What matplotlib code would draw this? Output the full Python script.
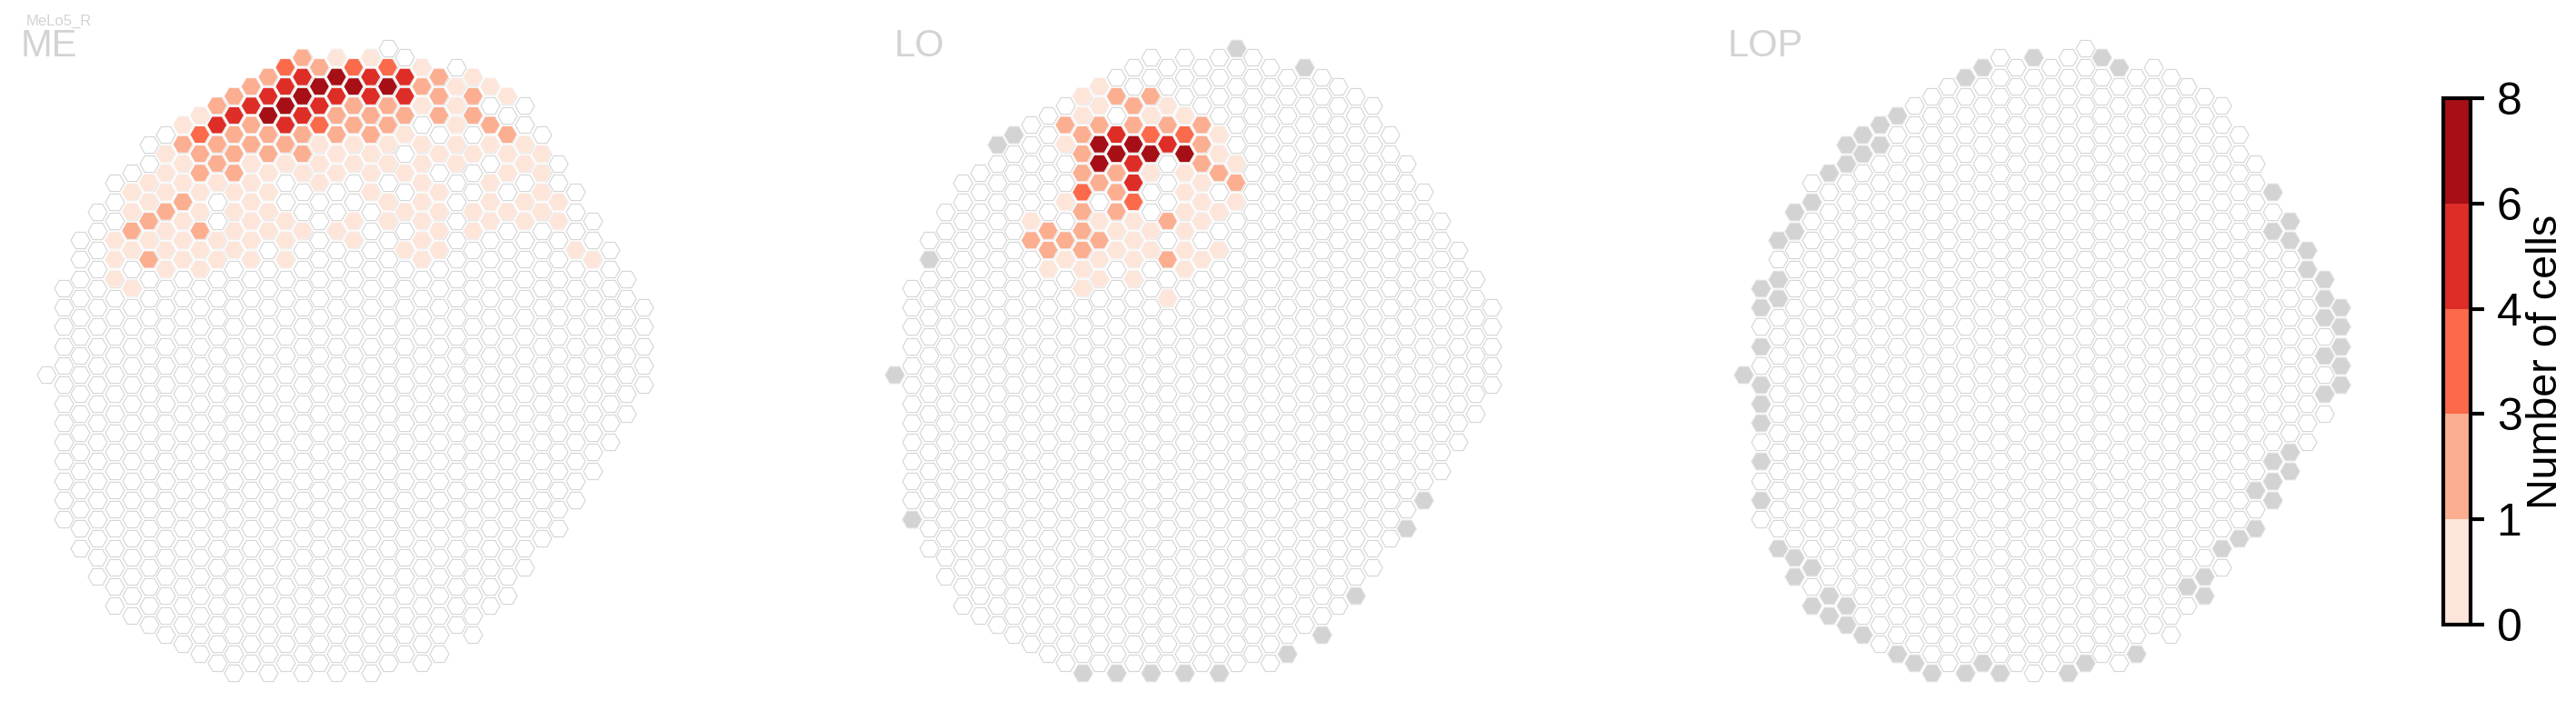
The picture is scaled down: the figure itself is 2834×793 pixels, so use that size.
import numpy as np
import matplotlib
matplotlib.use("Agg")
import matplotlib.pyplot as plt
from matplotlib.colors import ListedColormap, BoundaryNorm
from matplotlib.cm import ScalarMappable

plt.rcParams['font.family'] = ['Liberation Sans', 'DejaVu Sans']

N = None  # column with no count (white hexagon)

# hexagon lattice: first and last half-row of every lattice column
COLUMN_TOP = [0, -9, -14, -17, -20, -21, -24, -25, -26, -27, -28, -29, -30, -31, -32, -33, -32, -33,
              -32, -33, -34, -33, -32, -31, -32, -31, -30, -29, -28, -25, -22, -19, -16, -13, -10, -7]
COLUMN_BOTTOM = [0, 15, 18, 21, 24, 25, 26, 27, 28, 29, 30, 31, 30, 31, 30, 31, 30, 31,
                 30, 31, 30, 29, 30, 29, 26, 27, 24, 23, 20, 17, 16, 13, 10, 7, 4, 1]

# counts: lattice column -> (first half-row, counts going down every second half-row)
ME_COUNTS = {
    4: (-14, [0, 0, 0]),
    5: (-19, [0, 0, 2, 0, N, 0]),
    6: (-20, [0, 0, 2, 0, 2]),
    7: (-23, [0, 0, 0, 2, 0, 0, 0]),
    8: (-26, [0, 2, 0, 0, 2, 0, 0, 0]),
    9: (-27, [0, 3, 2, 2, 0, 0, 2, 0, 0]),
    10: (-28, [2, 5, 2, 2, 0, N, N, 0, 0]),
    11: (-29, [2, 5, 2, 2, 2, 0, 0, 0, 0]),
    12: (-30, [2, 5, 2, 2, 0, 0, 0, 0, 0, 0]),
    13: (-31, [2, 5, 7, 2, 2, 0, 0, 0, 0]),
    14: (-32, [3, 5, 7, 5, 2, 0, N, N, 0, 0, 0]),
    15: (-33, [2, 5, 7, 5, 2, 2, 0, N, N, 0]),
    16: (-32, [2, 7, 5, 3, 0, 0, 0]),
    17: (-33, [0, 7, 5, 2, 2, 0, 0, N, N, 0]),
    18: (-32, [3, 7, 2, 2, 0, 0, N, N, 0, 0]),
    19: (-33, [0, 5, 5, 2, 2, 0, 0, 0]),
    20: (-32, [3, 7, 2, 2, 0, 0, N, 0, 0]),
    21: (-31, [5, 5, 2, 0, N, 0, N, 0, N, 0]),
    22: (-32, [0, 2, 0, N, 0, 0, 0, 0, 0, 0, 0]),
    23: (-31, [2, 2, 2, N, 0, N, 0, 0, 0, 0]),
    24: (-30, [0, 0, 0, 0, 0]),
    25: (-31, [0, 2, 2, N, 0, N, N, 0, 0]),
    26: (-30, [0, N, 2, 0, N, 0, 0, 0]),
    27: (-29, [0, N, 2, 0, 0, N, 0]),
    28: (-24, [0, 0, N, 0, 0]),
    29: (-23, [0, 0, 0, 0]),
    30: (-18, [0, 0]),
    31: (-13, [0]),
    32: (-12, [0]),
}
LO_COUNTS = {
    8: (-16, [0, 2]),
    9: (-15, [2, 2, 0]),
    10: (-26, [2, 0, N, N, 0, N, 2, 0]),
    11: (-29, [0, 0, 2, 2, 2, 3, 2, 2, 2, 0, 0]),
    12: (-30, [0, 0, 2, 7, 7, 2, N, 0, 2, 0, 0]),
    13: (-29, [2, N, 5, 7, 2, 2, 2, 0, 0]),
    14: (-28, [2, 2, 7, 5, 5, 3, 0, 0, 0, 0]),
    15: (-29, [2, 0, 3, 7, 0, N, N, 0, 0]),
    16: (-28, [0, 2, 5, N, N, N, 2, N, 2, N, 0]),
    17: (-27, [0, 3, 7, 0, 0, 0, 0, 0, 0]),
    18: (-26, [2, 2, 2, 0, 0, 0, N, 0]),
    19: (-25, [0, 0, 2, N, 0, N, 0]),
    20: (-22, [0, 2, 0]),
}
LOP_COUNTS = {}

# grey hexagons (lattice column, half-row)
LO_GREY_COLS = [0, 1, 2, 6, 7, 11, 13, 15, 17, 19, 20, 23, 24, 25, 27, 30, 31]
LO_GREY_ROWS = [0, 15, -12, -24, -25, 31, 31, 31, 31, 31, -34, 29, -32, 27, 23, 16, 13]
ME_GREY_COLS = []
ME_GREY_ROWS = []
LOP_GREY_COLS = [17, 14, 13, 21, 22, 9, 8, 7, 6, 8, 7, 6, 5, 4, 3, 3, 2, 2, 1, 2, 1, 1,
                 0, 1, 1, 1, 1, 1, 2, 3, 4, 3, 5, 4, 6, 5, 6, 7, 9, 10, 11, 13, 14, 15, 19, 20, 23,
                 31, 32, 31, 32, 33, 33, 34, 34, 35, 34, 35, 35, 34, 35, 35, 34,
                 32, 31, 32, 31, 30, 31, 30, 29, 28, 27, 26, 27]
LOP_GREY_ROWS = [-33, -32, -31, -33, -32, -27, -26, -25, -24, -24, -23, -22, -21, -18, -17, -15, -14, -10, -9, -8, -7, -3,
                 0, 1, 3, 5, 9, 13, 18, 19, 20, 21, 23, 24, 24, 25, 26, 27, 29, 30, 31, 31, 30, 31, 31, 30, 29,
                 -19, -16, -15, -14, -13, -11, -10, -8, -7, -6, -5, -3, -2, -1, 1, 2,
                 8, 9, 10, 11, 12, 13, 16, 17, 18, 21, 22, 23]

PANEL_NAMES = ['ME', 'LO', 'LOP']
CELL_TYPE = 'MeLo5_R'
BOUNDS = [0, 1, 3, 4, 6, 8]
COLORS = ['#fee5d9', '#fcae91', '#fb6a4a', '#de2d26', '#a50f15']
GREY = '#d3d3d3'
CBAR_LABEL = 'Number of cells'

W, H = 2834, 793
STEP_X, STEP_Y = 18.78, 10.57
ORIGIN_Y = 412.3
PANEL_X0 = [50.9, 984.0, 1918.0]
TITLE_X = [23, 984, 1901]
HEX_S = 25.5
HEX_S_FILLED = 27.5

cmap = ListedColormap(COLORS)
norm = BoundaryNorm(BOUNDS, cmap.N)

fig = plt.figure(figsize=(W / 300, H / 300), dpi=300, facecolor='white')

col_all = np.concatenate([[k] * len(range(t, b + 1, 2)) for k, (t, b) in enumerate(zip(COLUMN_TOP, COLUMN_BOTTOM))])
row_all = np.concatenate([list(range(t, b + 1, 2)) for t, b in zip(COLUMN_TOP, COLUMN_BOTTOM)])


def expand(counts):
    cs, rs, vs = [], [], []
    for col, (first, values) in counts.items():
        for i, v in enumerate(values):
            if v is not None:
                cs.append(col)
                rs.append(first + 2 * i)
                vs.append(v)
    return cs, rs, vs


panels = [(ME_COUNTS, ME_GREY_COLS, ME_GREY_ROWS), (LO_COUNTS, LO_GREY_COLS, LO_GREY_ROWS),
          (LOP_COUNTS, LOP_GREY_COLS, LOP_GREY_ROWS)]
for name, x0, tx, (counts, gc, gr) in zip(PANEL_NAMES, PANEL_X0, TITLE_X, panels):
    left, right = x0 - 40, x0 + 740
    ax = fig.add_axes([left / W, 0, (right - left) / W, 1])
    ax.set_xlim((left - x0) / STEP_X, (right - x0) / STEP_X)
    ax.set_ylim((H - ORIGIN_Y) / STEP_Y, -ORIGIN_Y / STEP_Y)
    ax.axis('off')
    ax.scatter(col_all, row_all, s=HEX_S, marker='H', facecolor='white', edgecolor='#d2d2d2', linewidth=0.25, zorder=1)
    cs, rs, vs = expand(counts)
    if cs:
        ax.scatter(cs, rs, c=vs, s=HEX_S_FILLED, marker='H', cmap=cmap, norm=norm, edgecolor='#f8f8f8', linewidth=0.2, zorder=2)
    if gc:
        ax.scatter(gc, gr, s=HEX_S_FILLED, marker='H', facecolor=GREY, edgecolor='#f0f0f0', linewidth=0.2, zorder=3)
    fig.text(tx / W, 1 - 62 / H, name, fontsize=10, color=GREY, ha='left', va='baseline')

fig.text(29 / W, 1 - 28 / H, CELL_TYPE, fontsize=4, color=GREY, ha='left', va='baseline')

cax = fig.add_axes([2688 / W, 1 - 687 / H, 29.5 / W, 579 / H])
cb = fig.colorbar(ScalarMappable(norm=norm, cmap=cmap), cax=cax, spacing='uniform', ticks=BOUNDS)
cb.ax.tick_params(labelsize=12, length=3.5, width=1, which='major')
cb.ax.minorticks_off()
cb.outline.set_linewidth(1)
cb.set_label(CBAR_LABEL, fontsize=11.2, labelpad=1)

fig.savefig('out.png', dpi=300, facecolor='white')
